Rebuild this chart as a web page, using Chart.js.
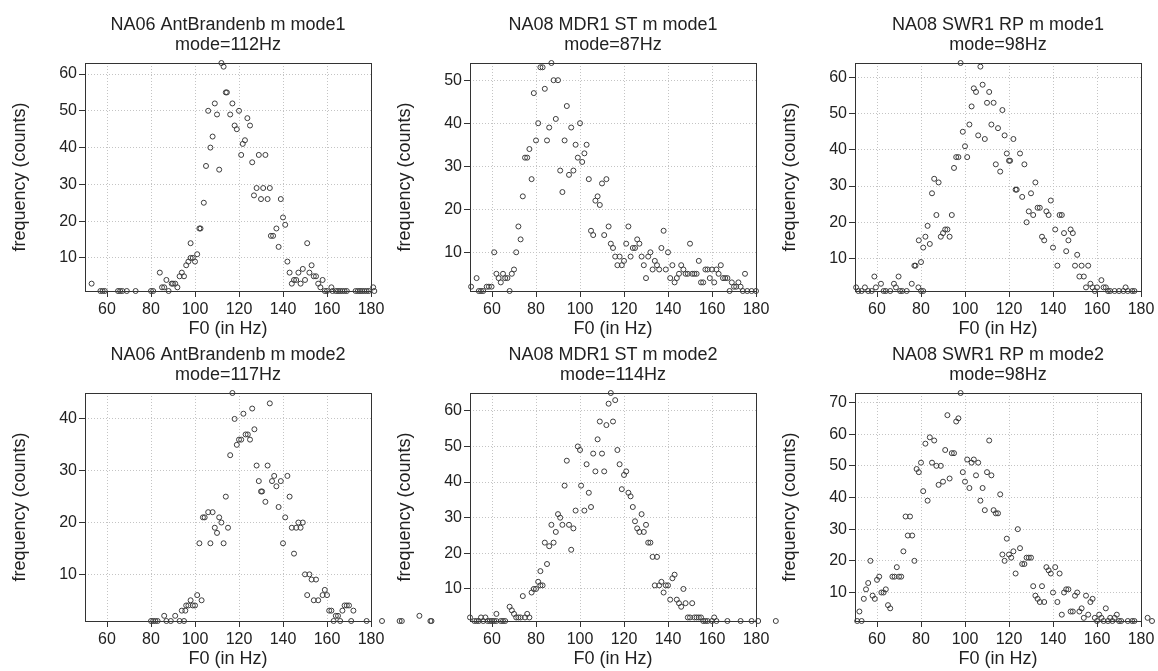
<!DOCTYPE html>
<html>
<head>
<meta charset="utf-8">
<title>F0 histograms</title>
<script src="https://cdn.jsdelivr.net/npm/chart.js@4.4.1/dist/chart.umd.min.js"></script>
<style>
  html, body { margin: 0; padding: 0; background: #fff; overflow: hidden; }
  #wrap { position: relative; width: 1158px; height: 671px; }
  #wrap canvas { position: absolute; }
</style>
</head>
<body>
<div id="wrap"></div>
<script>
// F0 (Hz) / count pairs
const ant1 = [[53,3],[57,1],[58,1],[59,1],[65,1],[66,1],[67,1],[69,1],[73,1],[80,1],[81,1],
  [84,6],[85,2],[86,2],[87,4],[88,1],[89.4,3],[90,3],[91,3],[92,2],[93,5],[94,6],[95,5],
  [96,8],[97,9],[98,10],[99,10],[100,9],[101,11],[98,14],[102,18],[102.5,18],[104,25],[105,35],
  [106,50],[107,40],[108,43],[109,52],[110,49],[111,34],[112,63],[113,62],[114,55],[114.5,55],
  [116,49],[117,52],[118,46],[119,45],[120,50],[121,38],[121.7,41],[122.7,42],[123.8,48],[125,46],
  [126,36],[126.8,27],[128,29],[129,38],[130,26],[131,29],[132,38],[133,26],[134,29],[134.5,16],
  [135.5,16],[137,18],[138,13],[139,26],[140,21],[141,19],[142,9],[143,6],[144,3],[145,4],[146,4],
  [147,6],[148,3],[149,7],[150,4],[151,14],[152,6],[153,8],[154,5],[155,5],[156,3],[157,2],[158,4],
  [159,1],[160,1],[162,2],[162.5,1],[164,1],[165,1],[166,1],[167,1],[168,1],[169,1],[173,1],[174,1],
  [175,1],[176,1],[177,1],[178,1],[179,1],[181,2],[181.5,1]];

const mdr1 = [[50.5,2],[53,4],[54,1],[55,1],[56,1],[57.6,2],[58.6,2],[59.8,2],[61,10],[62,5],[63,4],
  [64,3],[65,5],[66,4],[67,4],[68,1],[69,5],[70,6],[71,10],[72,16],[73,13],[74,23],[75,32],[76,32],
  [77,34],[78,27],[79,47],[80,36],[81,40],[82,53],[83,53],[84,48],[85,36],[86,39],[87,54],[88,50],
  [89,41],[90,50],[91,29],[92,24],[93,36],[94,44],[95,28],[96,39],[97,29],[98,35],[99,32],[100,40],
  [101,31],[102,33],[103,35],[104,27],[105,15],[106,14],[107,22],[108,23],[109,21],[110,26],[111,14],
  [112,27],[113,16],[114,12],[115,11],[116,9],[117,7],[118,9],[119,7],[120,8],[121,12],[122,16],
  [123,9],[124,11],[125,11],[126,13],[127,12],[128,9],[129,7],[130,4],[131,9],[132,10],[133,6],
  [134,8],[135,7],[136,6],[137,11],[138,15],[139,6],[140,10],[141,4],[142,7],[143,3],[144,4],[145,5],
  [146,7],[147,6],[148,5],[149,5],[150,12],[151,5],[152,5],[153,5],[154,8],[155,3],[156,3],[157,6],
  [158,6],[159,4],[160,6],[161,3],[162,6],[163,5],[164,7],[165,4],[166,4],[167,4],[168,1],[169,3],
  [170,2],[171,2],[172,3],[173,2],[174,1],[175,5],[176,1],[178,1],[180,1]];

const swr1 = [[50.5,2],[51.5,1],[53,1],[54.5,2],[56,1],[57.6,1],[58.8,5],[59.5,2],[61.8,3],[63,1],
  [64,1],[66,1],[67.7,3],[68.6,2],[69.8,5],[70.5,1],[71.5,1],[73.5,1],[75.8,3],[77,8],[77.5,8],
  [78.8,2],[79,15],[80,1],[80,9],[81,1],[81,13],[82,16],[83,19],[84,14],[85,28],[86,32],[87,22],
  [88,31],[89,16],[90,17],[91,18],[92,18],[93,16],[94,22],[95,35],[96,38],[97,38],[98,64],[99,45],
  [100,41],[101,38],[102,47],[103,52],[104,57],[105,56],[106,44],[107,63],[108,58],[109,43],[110,53],
  [111,56],[112,47],[113,53],[114,36],[115,46],[116,34],[117,51],[118,44],[119,39],[120,37],[120.5,37],
  [122,43],[123,29],[123.5,29],[125,39],[126,27],[127,36],[128,20],[129,23],[130,28],[131,22],
  [132,31],[133,24],[134,24],[135,16],[136,15],[137,23],[138,22],[139,26],[140,13],[141,18],[142,8],
  [143,22],[144,22],[145,17],[146,12],[147,15],[148,18],[149,17],[150,8],[151,11],[152,5],[153,8],
  [154,5],[155,2],[156,8],[157,3],[158,2],[159,1],[160,2],[162,4],[163,2],[164,2],[165,1],[166,1],
  [168,1],[170,1],[172,1],[173,2],[174,1],[176,1],[177,1]];

const ant2 = [[80,1],[81,1],[82,1],[83,1],[86,2],[87,1],[89,1],[91,2],[93,1],[95,1],[94,3],[95.6,3],
  [96,4],[97,4],[98,5],[99,4],[100,4],[101,6],[103,5],[102,16],[103.6,21],[104.4,21],[106,22],[108,22],
  [107,16],[109,19],[110,18],[111,21],[112,20],[113,16],[114,25],[115,19],[116,33],[117,45],[118,40],
  [119,35],[120,36],[121,36],[122,41],[123,37],[124,37],[125,36],[126,42],[127,38],[128,31],[129,28],
  [130,26],[130.5,26],[132,24],[133,31],[134,43],[135,28],[136,29],[137,27],[138,23],[139,28],[140,16],
  [141,21],[142,29],[143,25],[144,19],[145,14],[146,19],[147,20],[148,19],[149,20],[150,10],[152,10],
  [151,6],[153,9],[155,9],[154,5],[156,5],[158,6],[160,6],[159,7],[161,3],[162,3],[163,1],[164,2],
  [165,2],[166,1],[167,3],[168,4],[169,4],[170,4],[171,1],[172,3],[178,1],[185,1],[193,1],[194,1],
  [202,2],[207,1],[207.5,1]];

const mdr2 = [[50,2],[52,1],[53,1],[54,1],[55,2],[56,1],[57,2],[58,1],[59,1],[60,1],[61,1],[62,1],
  [64,1],[65,1],[66,1],[62,3],[68,5],[69,4],[70,3],[71,2],[72,2],[73,2],[74,8],[75,2],[76,3],[77,2],
  [78,9],[79,10],[80,10],[81,12],[82,11],[83,11],[82,15],[84,23],[86,22],[88,23],[85,17],[87,28],
  [89,26],[90,31],[91,30],[92,28],[93,39],[94,46],[95,28],[96,21],[97,27],[98,32],[99,50],[100,49],
  [100.5,39],[102,32],[103,45],[104,37],[105,33],[106,48],[107,43],[108,52],[109,57],[110,48],
  [111,43],[112,56],[113,62],[114,65],[115,57],[116,63],[117,49],[118,45],[119,38],[120,42],[121,43],
  [122,37],[123,36],[124,33],[125,29],[126,27],[127,26],[128,31],[129,26],[130,28],[131,23],[132,23],
  [133,19],[135,19],[134,11],[136,11],[137,12],[138,9],[139,11],[140,11],[141,7],[142,13],[143,14],
  [144,7],[145,6],[146,5],[147,10],[148,6],[149,2],[150,2],[151,6],[152,2],[153,2],[154,2],[155,2],
  [156,1],[157,1],[158,1],[160,1],[161,2],[162,1],[167,1],[173,1],[178,1],[181,1],[189,1]];

const swr2 = [[51,1],[52,4],[53,1],[54,8],[55,11],[56,13],[57,20],[58,9],[59,8],[60,14],[61,15],
  [62,10],[63,10],[64,11],[65,6],[66,5],[67,15],[68,15],[69,18],[70,15],[71,15],[72,23],[73,34],
  [74,28],[75,34],[76,28],[77,20],[78,49],[79,48],[80,51],[81,42],[82,57],[83,39],[84,59],[85,51],
  [86,58],[87,50],[88,44],[89,50],[90,45],[91,55],[92,66],[93,46],[94,54],[95,54],[96,64],[97,65],
  [98,73],[99,48],[100,45],[101,52],[102,43],[103,51],[104,52],[105,47],[106,51],[107,39],[108,43],
  [109,36],[110,48],[111,58],[112,47],[113,36],[114,35],[115,35],[116,41],[117,22],[118,20],[119,27],
  [120,22],[121,21],[122,23],[123,16],[124,30],[125,24],[126,19],[127,19],[128,21],[129,21],[130,21],
  [131,12],[132,9],[133,8],[134,7],[135,12],[136,7],[137,18],[138,17],[139,16],[140,10],[141,18],
  [142,7],[143,16],[144,3],[145,10],[146,11],[147,11],[148,4],[149,4],[150,9],[151,10],[152,4],
  [153,5],[154,2],[155,9],[156,3],[157,7],[158,8],[159,2],[160,1],[161,3],[162,2],[163,1],[164,5],
  [165,1],[166,2],[167,1],[168,2],[169,3],[170,1],[171,1],[174,1],[176,1],[177,1],[183,2],[185,1]];

const titles = [
  ['NA06 AntBrandenb m mode1', 'mode=112Hz'],
  ['NA08 MDR1 ST m mode1', 'mode=87Hz'],
  ['NA08 SWR1 RP m mode1', 'mode=98Hz'],
  ['NA06 AntBrandenb m mode2', 'mode=117Hz'],
  ['NA08 MDR1 ST m mode2', 'mode=114Hz'],
  ['NA08 SWR1 RP m mode2', 'mode=98Hz']
];
const series = [ant1, mdr1, swr1, ant2, mdr2, swr2];

const xTicks = [60, 80, 100, 120, 140, 160, 180];
const yTicks = [
  [10, 20, 30, 40, 50, 60],
  [10, 20, 30, 40, 50],
  [10, 20, 30, 40, 50, 60],
  [10, 20, 30, 40],
  [10, 20, 30, 40, 50, 60],
  [10, 20, 30, 40, 50, 60, 70]
];
const xRange = [50, 180];
const xLabel = 'F0 (in Hz)';
const yLabel = 'frequency (counts)';

// canvas placement (canvases overlap a little so stray points outside the box stay visible)
const CANVAS_H = 341;
const PLOT_RIGHT = 371;
const cells = [
  { left: 0, top: 0, width: 450 }, { left: 385, top: 0, width: 450 }, { left: 770, top: 0, width: 388 },
  { left: 0, top: 330, width: 450 }, { left: 385, top: 330, width: 450 }, { left: 770, top: 330, width: 388 }
];

const FONT = "'Liberation Sans', Arial, Helvetica, sans-serif";
Chart.defaults.font.family = FONT;
Chart.defaults.color = '#222';

// R-style closed box around the plotting region
const boxPlugin = {
  id: 'plotBox',
  beforeDatasetsDraw(chart) {
    const { ctx, chartArea: a } = chart;
    const l = Math.round(a.left) + 0.5, t = Math.round(a.top) + 0.5;
    const r = Math.round(a.right) + 0.5, b = Math.round(a.bottom) + 0.5;
    ctx.save();
    ctx.strokeStyle = '#333';
    ctx.lineWidth = 1;
    ctx.strokeRect(l, t, r - l, b - t);
    ctx.restore();
  }
};

// Chart.js skips points lying outside the chart area; R draws them anyway
const strayPlugin = {
  id: 'strayPoints',
  afterDatasetsDraw(chart) {
    const a = chart.chartArea;
    const full = { left: 0, top: 0, right: chart.width, bottom: chart.height };
    chart.getDatasetMeta(0).data.forEach(pt => {
      const m = pt.size(pt.options) / 2;
      const inside = pt.x > a.left - m && pt.x < a.right + m && pt.y > a.top - m && pt.y < a.bottom + m;
      if (!inside) pt.draw(chart.ctx, full);
    });
  }
};

function axisCommon() {
  return {
    type: 'linear',
    bounds: 'data',
    grid: { color: '#c4c4c4', lineWidth: 1, tickColor: '#333', tickLength: 6 },
    border: { display: false, dash: [1, 2] },
    ticks: { color: '#222', font: { size: 16 }, autoSkip: false }
  };
}

function makePanel(i) {
  const cell = cells[i];
  const canvas = document.createElement('canvas');
  canvas.width = cell.width;
  canvas.height = CANVAS_H;
  canvas.style.left = cell.left + 'px';
  canvas.style.top = cell.top + 'px';
  document.getElementById('wrap').appendChild(canvas);

  const pts = series[i].map(p => ({ x: p[0], y: p[1] }));
  const ticksY = yTicks[i];

  const xAxis = axisCommon();
  Object.assign(xAxis, {
    min: xRange[0],
    max: xRange[1],
    afterBuildTicks: s => { s.ticks = xTicks.map(v => ({ value: v })); },
    afterFit: s => { s.height = 50; },
    title: { display: true, text: xLabel, color: '#222', font: { size: 18 }, padding: { top: 0, bottom: 1 } }
  });
  xAxis.ticks.padding = 3;

  const yAxis = axisCommon();
  Object.assign(yAxis, {
    min: 1,
    max: Math.max(...series[i].map(p => p[1])),
    afterBuildTicks: s => { s.ticks = ticksY.map(v => ({ value: v })); },
    afterFit: s => { s.width = 85; },
    title: { display: true, text: yLabel, color: '#222', font: { size: 18 }, padding: { top: 9, bottom: 0 } }
  });
  yAxis.ticks.padding = 2;

  return new Chart(canvas.getContext('2d'), {
    type: 'scatter',
    data: {
      datasets: [{
        data: pts,
        clip: false,
        pointStyle: 'circle',
        pointRadius: 2.5,
        borderWidth: 1,
        borderColor: '#3c3c3c',
        backgroundColor: 'rgba(0,0,0,0)'
      }]
    },
    options: {
      responsive: false,
      animation: false,
      events: [],
      layout: { padding: { top: 15, right: cell.width - PLOT_RIGHT, bottom: 0, left: 0 } },
      plugins: {
        legend: { display: false },
        tooltip: { enabled: false },
        title: {
          display: true,
          text: titles[i],
          fullSize: false,
          color: '#222',
          font: { size: 18, weight: 'normal', lineHeight: 20 / 18 },
          padding: { top: 0, bottom: 8 }
        }
      },
      scales: { x: xAxis, y: yAxis }
    },
    plugins: [boxPlugin, strayPlugin]
  });
}

document.addEventListener('DOMContentLoaded', () => {
  for (let i = 0; i < series.length; i++) makePanel(i);
});
</script>
</body>
</html>
